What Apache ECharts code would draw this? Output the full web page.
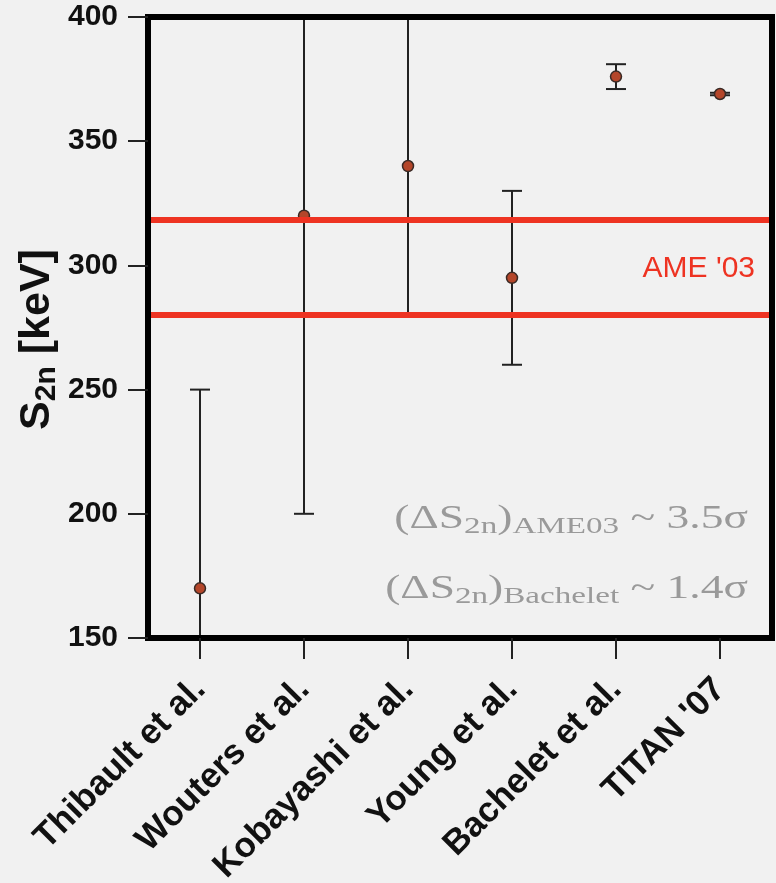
<!DOCTYPE html>
<html><head><meta charset="utf-8">
<script src="https://cdn.jsdelivr.net/npm/echarts@6/dist/echarts.min.js"></script>
<style>html,body{margin:0;padding:0;background:#f1f1f1;} #c{width:776px;height:883px;}</style>
</head><body><div id="c"></div>
<script>
const categories = ['Thibault et al.', 'Wouters et al.', 'Kobayashi et al.', 'Young et al.', 'Bachelet et al.', "TITAN '07"];
const values  = [170, 320, 340, 295, 376, 369];
const errLow  = [90, 200, 280, 260, 371, 368.5];
const errHigh = [250, 440, 400, 330, 381, 369.5];
const ameLines = [280, 318.5];
const yMin = 150, yMax = 400, yInterval = 50;

const SANS = 'Liberation Sans';
const SERIF = 'Liberation Serif';
const chart = echarts.init(document.getElementById('c'));
const errData = categories.map((c, i) => [i, errLow[i], errHigh[i]]);

const annRich = {
  p: {fontFamily: SERIF, fontSize: 33, fill: '#9a9a9a'},
  s: {fontFamily: SERIF, fontSize: 24, fill: '#9a9a9a', padding: [14, 0, 0, 0]}
};

const option = {
  backgroundColor: '#f1f1f1',
  animation: false,
  grid: {left: 148, right: 4, top: 17, bottom: 245, outerBoundsMode: 'none', containLabel: false,
         show: true, borderColor: '#000', borderWidth: 6, backgroundColor: 'transparent'},
  xAxis: [{
    type: 'category', data: categories, boundaryGap: true,
    axisLine: {show: true, onZero: false, lineStyle: {color: '#000', width: 6}},
    axisTick: {show: true, alignWithLabel: true, length: 21, lineStyle: {color: '#222', width: 2}},
    axisLabel: {interval: 0, rotate: 45, margin: 46, fontFamily: SANS, fontWeight: 'bold', fontSize: 35, color: '#111'},
    splitLine: {show: false}, z: 10
  }, {
    type: 'category', data: categories, position: 'top', boundaryGap: true,
    axisLine: {show: true, onZero: false, lineStyle: {color: '#000', width: 6}},
    axisTick: {show: false}, axisLabel: {show: false}, splitLine: {show: false}, z: 10
  }],
  yAxis: [{
    type: 'value', min: yMin, max: yMax, interval: yInterval,
    axisLine: {show: true, onZero: false, lineStyle: {color: '#000', width: 6}},
    axisTick: {show: true, length: 20, lineStyle: {color: '#222', width: 2}},
    axisLabel: {margin: 30, fontFamily: SANS, fontWeight: 'bold', fontSize: 30, color: '#111'},
    splitLine: {show: false},
    name: '{a|S}{b|2n}{a| [keV]}', nameLocation: 'middle', nameGap: 86, nameRotate: 90,
    nameMoveOverlap: false,
    nameTextStyle: {
      padding: [0, 24, 0, 0],
      rich: {
        a: {fontFamily: SANS, fontWeight: 'bold', fontSize: 43, color: '#111'},
        b: {fontFamily: SANS, fontWeight: 'bold', fontSize: 30, color: '#111', padding: [20, 0, 0, 0]}
      }
    },
    z: 10
  }, {
    type: 'value', min: yMin, max: yMax, interval: yInterval, position: 'right',
    axisLine: {show: true, onZero: false, lineStyle: {color: '#000', width: 6}},
    axisTick: {show: false}, axisLabel: {show: false}, splitLine: {show: false}, z: 10
  }],
  series: [{
    type: 'custom', name: 'err', clip: true, z: 3,
    data: errData,
    renderItem: function (params, api) {
      const x = api.value(0);
      const lo = api.coord([x, api.value(1)]);
      const hi = api.coord([x, api.value(2)]);
      const hw = 10;
      const st = {stroke: '#222', lineWidth: 2};
      return {type: 'group', children: [
        {type: 'line', shape: {x1: lo[0], y1: lo[1], x2: hi[0], y2: hi[1]}, style: st},
        {type: 'line', shape: {x1: lo[0] - hw, y1: lo[1], x2: lo[0] + hw, y2: lo[1]}, style: st},
        {type: 'line', shape: {x1: hi[0] - hw, y1: hi[1], x2: hi[0] + hw, y2: hi[1]}, style: st}
      ]};
    }
  }, {
    type: 'scatter', name: 'val', z: 4,
    data: values,
    symbol: 'circle', symbolSize: 11,
    itemStyle: {color: '#b4462a', borderColor: '#3a2a25', borderWidth: 1.5, opacity: 1}
  }, {
    type: 'line', name: 'ame', z: 5, data: [],
    markLine: {
      silent: true, symbol: 'none', animation: false,
      label: {show: false},
      lineStyle: {color: '#ee3322', width: 6, type: 'solid'},
      data: ameLines.map(v => ({yAxis: v}))
    }
  }],
  graphic: [
    {type: 'text', right: 21, top: 254, z: 20,
     style: {text: "AME '03", fill: '#ee3322', font: '30px "Liberation Sans"'}},
    {type: 'text', right: 28, top: 503, z: 20, scaleX: 1.38,
     style: {text: '{p|(ΔS}{s|2n}{p|)}{s|AME03}{p| ~ 3.5σ}', rich: annRich}},
    {type: 'text', right: 28, top: 573, z: 20, scaleX: 1.38,
     style: {text: '{p|(ΔS}{s|2n}{p|)}{s|Bachelet}{p| ~ 1.4σ}', rich: annRich}}
  ]
};
chart.setOption(option);
</script></body></html>
